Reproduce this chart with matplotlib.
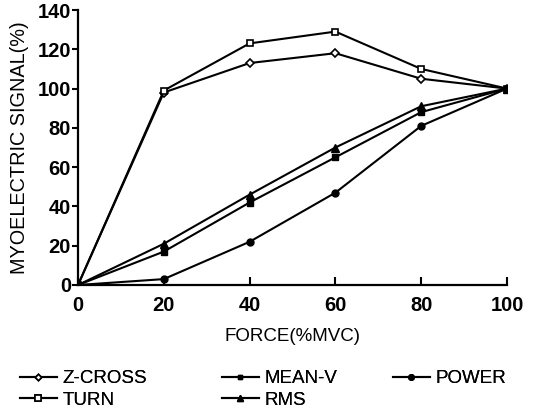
import matplotlib.pyplot as plt

force = [0, 20, 40, 60, 80, 100]
z_cross = [0, 98, 113, 118, 105, 100]
turn = [0, 99, 123, 129, 110, 100]
mean_v = [0, 17, 42, 65, 88, 100]
rms = [0, 21, 46, 70, 91, 100]
power = [0, 3, 22, 47, 81, 100]

plt.rcParams['font.family'] = ['Liberation Sans', 'DejaVu Sans']

fig = plt.figure(figsize=(5.42, 4.20), dpi=100)
ax = fig.add_axes([78 / 542, 1 - 285 / 420, 429 / 542, 275 / 420])

lw = 1.5
l1, = ax.plot(force, z_cross, color='black', lw=lw, marker='D', ms=4,
              mfc='white', mec='black', mew=1.2, label='Z-CROSS')
l2, = ax.plot(force, turn, color='black', lw=lw, marker='s', ms=5,
              mfc='white', mec='black', mew=1.2, label='TURN')
l3, = ax.plot(force, mean_v, color='black', lw=lw, marker='s', ms=4,
              mfc='black', mec='black', label='MEAN-V')
l4, = ax.plot(force, rms, color='black', lw=lw, marker='^', ms=6,
              mfc='black', mec='black', label='RMS')
l5, = ax.plot(force, power, color='black', lw=lw, marker='o', ms=5,
              mfc='black', mec='black', label='POWER')

ax.set_xlim(0, 100)
ax.set_ylim(0, 140)
ax.set_xticks([0, 20, 40, 60, 80, 100])
ax.set_yticks([0, 20, 40, 60, 80, 100, 120, 140])
ax.spines['top'].set_visible(False)
ax.spines['right'].set_visible(False)
ax.spines['left'].set_linewidth(1.6)
ax.spines['bottom'].set_linewidth(1.6)
ax.tick_params(axis='x', direction='in', length=6, width=1.5, labelsize=14.5, pad=8)
ax.tick_params(axis='y', direction='out', length=4, width=1.5, labelsize=14.5, pad=1)
for t in ax.get_xticklabels() + ax.get_yticklabels():
    t.set_fontweight('bold')

ax.set_xlabel('FORCE(%MVC)', fontsize=13.5, labelpad=9)
ax.set_ylabel('MYOELECTRIC SIGNAL(%)', fontsize=14.3, labelpad=6)

# three legend columns, placed where the reference has them
narrow = {'family': ['Liberation Sans Narrow', 'Liberation Sans'], 'size': 13.5}
columns = [([l1, l2], 20), ([l3, l4], 222), ([l5], 393)]
for handles, x0 in columns:
    leg = fig.legend(handles=handles, loc='upper left',
                     bbox_to_anchor=(x0 / 542, 1 - 370 / 420), frameon=False,
                     prop=narrow, borderpad=0, borderaxespad=0,
                     handlelength=1.95, handletextpad=0.3,
                     labelspacing=0.25, markerscale=0.8)
    fig.add_artist(leg)

fig.savefig('out.png', dpi=100)
